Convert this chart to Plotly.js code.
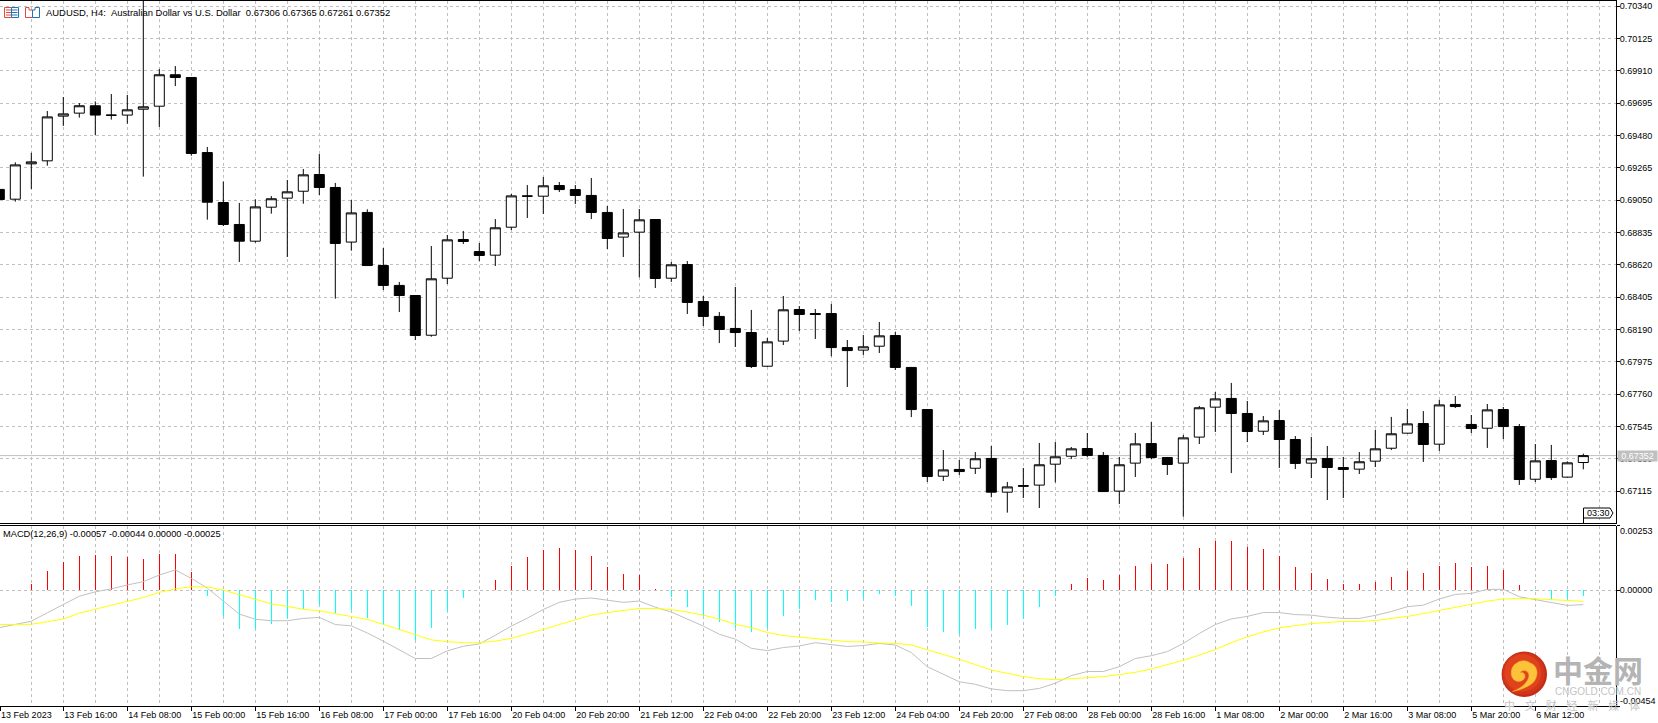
<!DOCTYPE html>
<html><head><meta charset="utf-8">
<script src="https://cdn.plot.ly/plotly-3.0.1.min.js"></script>
<style>html,body{margin:0;padding:0;background:#fff}#c{width:1658px;height:723px}</style>
</head><body><div id="c"></div>
<script>
const opens=[.69121,.69056,.69291,.69311,.69608,.69628,.69677,.69615,.69615,.69654,.69674,.69883,.69865,.69366,.69034,.68888,.68777,.69003,.69063,.69109,.69220,.69134,.68771,.68968,.68615,.68483,.68416,.68152,.68531,.68788,.68708,.68684,.68870,.69078,.69076,.69147,.69120,.69081,.68968,.68804,.68837,.68921,.68531,.68622,.68376,.68277,.68197,.68170,.67946,.68113,.68323,.68296,.68296,.68070,.68053,.68079,.68150,.67938,.67658,.67215,.67260,.67268,.67333,.67109,.67153,.67156,.67295,.67348,.67399,.67353,.67116,.67302,.67432,.67339,.67302,.67475,.67674,.67732,.67632,.67514,.67585,.67459,.67302,.67333,.67273,.67262,.67315,.67401,.67501,.67565,.67428,.67692,.67559,.67534,.67658,.67545,.67195,.67319,.67209,.67306];
const highs=[.69121,.69301,.69365,.69642,.69735,.69695,.69706,.69755,.69749,.70400,.69921,.69941,.69868,.69403,.69173,.69031,.69055,.69077,.69184,.69257,.69356,.69164,.69051,.68989,.68732,.68506,.68419,.68745,.68818,.68845,.68765,.68924,.69091,.69150,.69204,.69170,.69150,.69197,.69011,.68991,.68991,.68924,.68639,.68645,.68413,.68306,.68473,.68320,.68134,.68413,.68346,.68326,.68360,.68120,.68154,.68240,.68173,.67941,.67662,.67389,.67323,.67376,.67416,.67177,.67270,.67436,.67442,.67409,.67502,.67376,.67343,.67502,.67575,.67343,.67489,.67682,.67775,.67835,.67715,.67615,.67655,.67482,.67476,.67416,.67343,.67376,.67522,.67609,.67662,.67648,.67722,.67748,.67622,.67695,.67675,.67562,.67429,.67423,.67314,.67365];
const lows=[.69054,.69040,.69124,.69279,.69543,.69598,.69483,.69585,.69558,.69206,.69536,.69808,.69345,.68920,.68878,.68639,.68767,.68960,.68672,.69026,.69084,.68395,.68714,.68612,.68453,.68306,.68120,.68142,.68492,.68758,.68645,.68612,.68851,.68931,.68958,.69104,.69024,.68924,.68725,.68672,.68537,.68466,.68506,.68293,.68213,.68100,.68074,.67934,.67941,.68087,.68180,.68127,.68012,.67808,.68021,.68034,.67921,.67608,.67177,.67183,.67223,.67230,.67075,.66973,.67070,.67004,.67174,.67329,.67343,.67110,.67030,.67210,.67329,.67223,.66946,.67429,.67509,.67236,.67442,.67489,.67270,.67263,.67203,.67057,.67070,.67230,.67276,.67389,.67498,.67310,.67383,.67668,.67502,.67403,.67462,.67157,.67177,.67190,.67205,.67261];
const closes=[.69054,.69284,.69304,.69603,.69623,.69677,.69615,.69614,.69650,.69670,.69883,.69865,.69360,.69036,.68888,.68777,.69005,.69059,.69105,.69218,.69134,.68762,.68965,.68615,.68483,.68416,.68150,.68527,.68786,.68775,.68682,.68866,.69078,.69076,.69145,.69120,.69081,.68968,.68795,.68832,.68919,.68529,.68620,.68370,.68277,.68190,.68170,.67944,.68108,.68321,.68290,.68290,.68070,.68050,.68075,.68148,.67938,.67658,.67213,.67257,.67246,.67331,.67109,.67144,.67149,.67291,.67344,.67397,.67353,.67113,.67291,.67430,.67339,.67293,.67470,.67670,.67729,.67632,.67512,.67583,.67459,.67300,.67331,.67273,.67260,.67311,.67397,.67497,.67563,.67426,.67689,.67678,.67532,.67656,.67545,.67193,.67317,.67206,.67304,.67352];
const histogram=[0,0,.00025,.00075,.00110,.00134,.00137,.00134,.00130,.00122,.00141,.00141,.00072,-.00024,-.00101,-.00153,-.00153,-.00134,-.00110,-.00075,-.00059,-.00090,-.00079,-.00110,-.00137,-.00157,-.00194,-.00149,-.00082,-.00031,0,.00039,.00096,.00130,.00157,.00165,.00157,.00134,.00090,.00063,.00059,.00004,-.00027,-.00067,-.00101,-.00126,-.00149,-.00165,-.00149,-.00102,-.00075,-.00039,-.00047,-.00043,-.00035,-.00016,-.00024,-.00063,-.00145,-.00165,-.00173,-.00153,-.00153,-.00137,-.00114,-.00067,-.00024,.00024,.00047,.00039,.00059,.00094,.00102,.00102,.00126,.00165,.00192,.00192,.00169,.00161,.00134,.00090,.00067,.00043,.00024,.00024,.00031,.00051,.00075,.00067,.00094,.00106,.00090,.00094,.00079,.00020,-.00004,-.00035,-.00035,-.00025];
const macdLine=[-.00147,-.00134,-.00122,-.00089,-.00056,-.00024,-.00007,.00005,.00020,.00033,.00059,.00079,.00046,.00008,-.00043,-.00094,-.00114,-.00120,-.00120,-.00111,-.00107,-.00135,-.00140,-.00168,-.00200,-.00233,-.00268,-.00268,-.00238,-.00220,-.00211,-.00177,-.00141,-.00110,-.00076,-.00048,-.00035,-.00031,-.00039,-.00048,-.00043,-.00067,-.00086,-.00114,-.00141,-.00173,-.00192,-.00228,-.00237,-.00225,-.00219,-.00206,-.00213,-.00221,-.00217,-.00209,-.00215,-.00245,-.00300,-.00331,-.00359,-.00369,-.00387,-.00394,-.00394,-.00385,-.00365,-.00335,-.00319,-.00319,-.00300,-.00268,-.00257,-.00241,-.00209,-.00170,-.00135,-.00113,-.00103,-.00088,-.00088,-.00096,-.00098,-.00106,-.00111,-.00111,-.00099,-.00084,-.00065,-.00059,-.00035,-.00017,-.00013,.00003,.00003,-.00026,-.00037,-.00051,-.00060,-.00057];
const signalLine=[-.00135,-.00135,-.00134,-.00124,-.00113,-.00090,-.00075,-.00059,-.00043,-.00029,-.00009,.00005,.00013,.00013,0,-.00018,-.00038,-.00054,-.00064,-.00075,-.00081,-.00093,-.00105,-.00115,-.00134,-.00154,-.00174,-.00195,-.00202,-.00206,-.00206,-.00200,-.00189,-.00173,-.00154,-.00135,-.00115,-.00098,-.00088,-.00079,-.00072,-.00072,-.00076,-.00086,-.00098,-.00114,-.00134,-.00147,-.00166,-.00178,-.00185,-.00190,-.00196,-.00202,-.00203,-.00207,-.00209,-.00215,-.00233,-.00253,-.00271,-.00292,-.00313,-.00326,-.00339,-.00347,-.00351,-.00347,-.00343,-.00339,-.00331,-.00322,-.00309,-.00293,-.00275,-.00255,-.00233,-.00206,-.00183,-.00164,-.00148,-.00139,-.00131,-.00127,-.00123,-.00123,-.00119,-.00111,-.00103,-.00092,-.00080,-.00068,-.00056,-.00043,-.00035,-.00033,-.00034,-.00038,-.00041,-.00044];
const dateLabels=["13 Feb 2023","13 Feb 16:00","14 Feb 08:00","15 Feb 00:00","15 Feb 16:00","16 Feb 08:00","17 Feb 00:00","17 Feb 16:00","20 Feb 04:00","20 Feb 20:00","21 Feb 12:00","22 Feb 04:00","22 Feb 20:00","23 Feb 12:00","24 Feb 04:00","24 Feb 20:00","27 Feb 08:00","28 Feb 00:00","28 Feb 16:00","1 Mar 08:00","2 Mar 00:00","2 Mar 16:00","3 Mar 08:00","5 Mar 20:00","6 Mar 12:00"];
const priceTicks=[.70340,.70125,.69910,.69695,.69480,.69265,.69050,.68835,.68620,.68405,.68190,.67975,.67760,.67545,.67330,.67115];
const macdTop=.00253, macdBottom=-.00454;

const W=1658,H=723,AX=1616;
const X=p=>p/W, Y=p=>1-p/H;
const idx=opens.map((_,i)=>i);
const tickIdx=dateLabels.map((_,k)=>k===0?0.05:k*4);
const minorIdx=[];for(let i=2;i<=100;i+=2)if(i%4)minorIdx.push(i);
minorIdx.push(100);
const FONT="Liberation Sans, Arial, sans-serif";
const f=(s,c)=>({family:FONT,size:s,color:c||'#000'});
const gridC='#c0c0c0',dash='3px,3px';

const vaxis={range:[0.7/16,(AX+0.7)/16],domain:[0,AX/W],type:'linear',
  tickmode:'array',tickvals:tickIdx,ticktext:dateLabels,zeroline:false,
  showgrid:true,gridcolor:gridC,griddash:dash,gridwidth:1,
  minor:{tickmode:'array',tickvals:minorIdx,showgrid:true,gridcolor:gridC,griddash:dash,gridwidth:1,ticks:''},
  showline:true,linecolor:'#000',linewidth:1,rangeslider:{visible:false},fixedrange:true};

const traces=[
 {type:'candlestick',x:idx,open:opens,high:highs,low:lows,close:closes,xaxis:'x2',yaxis:'y',whiskerwidth:0,hoverinfo:'skip',showlegend:false,
  increasing:{line:{color:'#000',width:1},fillcolor:'#fff'},decreasing:{line:{color:'#000',width:1},fillcolor:'#000'}},
 {type:'bar',x:idx,y:histogram,xaxis:'x',yaxis:'y2',width:0.075,marker:{color:histogram.map(v=>v>=0?'#ff0000':'#00ffff'),line:{width:0}},hoverinfo:'skip',showlegend:false},
 {type:'scatter',mode:'lines',x:idx,y:macdLine,xaxis:'x',yaxis:'y2',line:{color:'#c0c0c0',width:1},hoverinfo:'skip',showlegend:false},
 {type:'scatter',mode:'lines',x:idx,y:signalLine,xaxis:'x',yaxis:'y2',line:{color:'#ffff00',width:1},hoverinfo:'skip',showlegend:false}
];

const shapes=[];
function path(d,fill,line,lw,layer){shapes.push({type:'path',xref:'paper',yref:'paper',path:d,fillcolor:fill||'rgba(0,0,0,0)',line:{color:line||'rgba(0,0,0,0)',width:lw===undefined?1:lw},layer:layer||'above'});}
function D(cmds){return cmds.map(c=>{const a=c.slice(1).map((v,i)=>i%2?Y(v):X(v));return c[0]+a.join(' ');}).join(' ');}
function seg(x0,y0,x1,y1,col,w,layer){shapes.push({type:'line',xref:'paper',yref:'paper',x0:X(x0),x1:X(x1),y0:Y(y0),y1:Y(y1),line:{color:col,width:w||1},layer:layer||'above'});}
function circle(cx,cy,r,fill){shapes.push({type:'circle',xref:'paper',yref:'paper',x0:X(cx-r),x1:X(cx+r),y0:Y(cy+r),y1:Y(cy-r),fillcolor:fill,line:{width:0},layer:'above'});}

shapes.push({type:'line',xref:'x2',yref:'y',x0:0,x1:102,y0:closes[99],y1:closes[99],line:{color:'#c0c0c0',width:1},layer:'below'});
seg(0,523.5,AX,523.5,'#000',1);
seg(0,525.5,AX,525.5,'#000',1);
seg(1583.5,518,1583.5,523.5,'#000',1);
path(D([['M',1583.5,508],['L',1610,508],['L',1613,513],['L',1610,518],['L',1583.5,518],['Z']]),'#fff','#000',1);
const red='#e2483e',blue='#1f74b8';
path(D([['M',4.5,7.5],['L',11.5,7.5],['L',11.5,17.5],['L',4.5,17.5],['Z']]),'#fff',red,1);
path(D([['M',11.5,7.5],['L',18.5,7.5],['L',18.5,17.5],['L',11.5,17.5],['Z']]),'#fff',blue,1);
[10,12.5,15].forEach(y=>{seg(6,y,11,y,red,1);seg(12,y,17.5,y,blue,1);});
path(D([['M',25.5,7.5],['L',29,7.5],['L',29,10],['L',32.5,10],['L',32.5,17.5],['L',25.5,17.5],['Z']]),'#fff',red,1);
path(D([['M',32.5,10],['L',35,10],['L',35,7.5],['L',39.5,7.5],['L',39.5,17.5],['L',32.5,17.5],['Z']]),'#fff',blue,1);
circle(1524.3,674.3,22.7,'#c22c18');
circle(1523.6,673.6,21.2,'#d2361a');
circle(1522.8,672.8,18.5,'#e0431b');
path(D([['M',1512.5,691.5],['C',1520,690,1532,686,1535,680],['C',1539,673,1537,665,1530,663],['C',1527,660,1520,660,1517,663],['C',1512,665,1510,672,1512,677],['C',1514,682,1521,683,1524,679],['C',1527,675,1523,671,1520,673],['C',1522,669,1529,670,1529,676],['C',1528,682,1522,688,1512.5,691.5],['Z']]),'#fcc23a','#f6b030',0.5);

const ann=[];
function T(text,x,y,size,color,extra){ann.push(Object.assign({text,xref:'paper',yref:'paper',x:X(x),y:Y(y),xanchor:'left',yanchor:'middle',showarrow:false,font:f(size,color),borderpad:0},extra||{}));}
T("AUDUSD, H4:\u00a0\u00a0Australian Dollar vs U.S. Dollar\u00a0\u00a00.67306 0.67365 0.67261 0.67352",45,12.7,9.45);
T("MACD(12,26,9) -0.00057 -0.00044 0.00000 -0.00025",1.5,534.3,9.25);
T("03:30",1585.5,513,9);
T(closes[99].toFixed(5),1617,455.7,9,'#fff',{bgcolor:'#c0c0c0',width:39,height:10,align:'center'});
T(macdTop.toFixed(5),1619,530.7,9);
T(macdBottom.toFixed(5),1619,700.7,9);
ann.push({text:"中金网",xref:'paper',yref:'paper',x:X(1598),y:Y(669),xanchor:'center',yanchor:'middle',showarrow:false,font:{family:"Noto Sans CJK SC",size:30,color:'#b4b4b4',weight:700}});
ann.push({text:"CNGOLD.COM.CN",xref:'paper',yref:'paper',x:X(1598),y:Y(691),xanchor:'center',yanchor:'middle',showarrow:false,font:{family:FONT,size:10,color:'#c4c4c4'}});
ann.push({text:"中\u00a0\u00a0\u00a0\u00a0文\u00a0\u00a0\u00a0\u00a0财\u00a0\u00a0\u00a0\u00a0经\u00a0\u00a0\u00a0\u00a0新\u00a0\u00a0\u00a0\u00a0媒\u00a0\u00a0\u00a0\u00a0体",xref:'paper',yref:'paper',x:X(1572),y:Y(704.5),xanchor:'center',yanchor:'middle',showarrow:false,font:{family:"Noto Sans CJK SC",size:11,color:'#c4c4c4'}});

const layout={width:W,height:H,margin:{l:0,r:0,t:0,b:0,pad:0},autosize:false,paper_bgcolor:'#fff',plot_bgcolor:'#fff',showlegend:false,boxgap:0.375,boxgroupgap:0,bargap:0,barmode:'overlay',dragmode:false,
 xaxis:Object.assign({},vaxis,{anchor:'y2',side:'bottom',ticks:'outside',ticklen:4,tickcolor:'#000',tickwidth:1,tickfont:f(9),ticklabelposition:'outside right'}),
 xaxis2:Object.assign({},vaxis,{anchor:'y',side:'top',matches:'x',ticks:'',showticklabels:false}),
 yaxis:{anchor:'x2',side:'right',domain:[1-523.5/H,1-1/H],range:[.7034-517.5/15047,.7034+5/15047],tickmode:'array',tickvals:priceTicks,ticktext:priceTicks.map(v=>v.toFixed(5)),showgrid:true,gridcolor:gridC,griddash:dash,gridwidth:1,zeroline:false,showline:true,linecolor:'#000',linewidth:1,ticks:'outside',ticklen:3,tickcolor:'#000',tickfont:f(9),ticklabelstandoff:-2,fixedrange:true},
 yaxis2:{anchor:'x',side:'right',domain:[1-706/H,1-525.5/H],range:[macdBottom,macdTop],tickmode:'array',tickvals:[macdTop,0,macdBottom],ticktext:['','0.00000',''],showgrid:true,gridcolor:gridC,griddash:dash,gridwidth:1,zeroline:false,showline:true,linecolor:'#000',linewidth:1,ticks:'outside',ticklen:3,tickcolor:'#000',tickfont:f(9),ticklabelstandoff:-2,fixedrange:true},
 shapes,annotations:ann};
Plotly.newPlot('c',traces,layout,{staticPlot:true,displayModeBar:false});
</script></body></html>
